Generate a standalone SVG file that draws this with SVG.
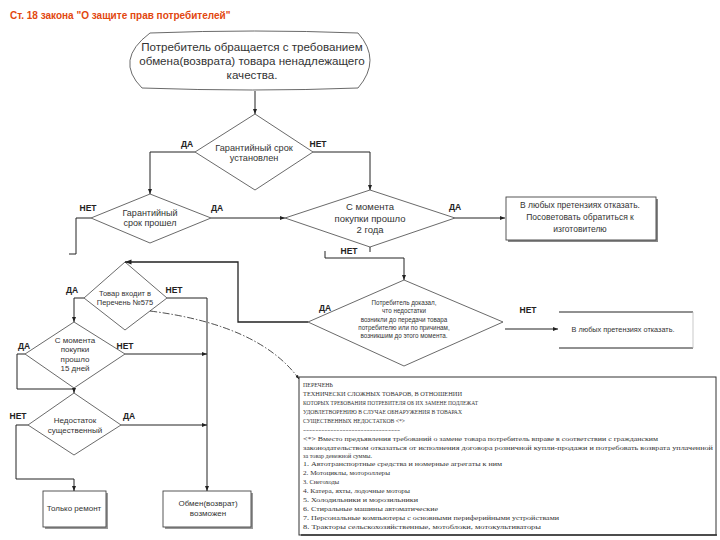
<svg xmlns="http://www.w3.org/2000/svg" width="720" height="540" viewBox="0 0 720 540">
<defs>
<style>
text{font-family:"Liberation Sans",Arial,sans-serif;fill:#333}
.t{text-anchor:middle}
.lbl{font-weight:bold;font-size:8.5px;fill:#222;text-anchor:middle}
.shape{fill:#fff;stroke:#444;stroke-width:0.8}
.box{fill:#fff;stroke:#444;stroke-width:0.9}
.ln{fill:none;stroke:#222;stroke-width:1}
.list{font-family:"Liberation Serif","Times New Roman",serif;font-size:7px;fill:#333}
</style>
<marker id="ah" viewBox="0 0 10 10" refX="10" refY="5" markerWidth="5" markerHeight="5" orient="auto">
<path d="M0,1 L10,5 L0,9 Z" fill="#222"/>
</marker>
</defs>
<rect width="720" height="540" fill="#fff"/>
<text x="10" y="19" style="font-weight:bold;font-size:10px;fill:#e2470f">Ст. 18 закона "О защите прав потребителей"</text>

<g id="start">
<path class="shape" d="M150,33 Q255,29 358,33 Q382,60 358,88 Q255,92 142,88 Q114,60 150,33 Z"/>
<text class="t" x="252" y="51" style="font-size:11.6px">Потребитель обращается с требованием</text>
<text class="t" x="252" y="65" style="font-size:11.6px">обмена(возврата) товара ненадлежащего</text>
<text class="t" x="252" y="79" style="font-size:11.6px">качества.</text>
</g>

<g id="d1">
<path class="shape" d="M255,114 L313,152 L255,190 L195,152 Z"/>
<text class="t" x="254" y="151" style="font-size:9.2px">Гарантийный срок</text>
<text class="t" x="254" y="161" style="font-size:9.2px">установлен</text>
</g>

<g id="d2">
<path class="shape" d="M150,194 L211,218 L150,243 L91,218 Z"/>
<text class="t" x="150" y="216" style="font-size:9px">Гарантийный</text>
<text class="t" x="150" y="226" style="font-size:9px">срок прошел</text>
</g>

<g id="d3">
<path class="shape" d="M370,190 L455,218 L370,247 L285,218 Z"/>
<text class="t" x="370" y="210" style="font-size:9.5px">С момента</text>
<text class="t" x="370" y="222" style="font-size:9.5px">покупки прошло</text>
<text class="t" x="370" y="233" style="font-size:9.5px">2 года</text>
</g>

<g id="refuse1">
<rect x="508" y="199" width="150" height="43" fill="#888"/>
<rect class="box" x="506" y="197" width="150" height="43"/>
<text class="t" x="580" y="208" style="font-size:8.5px">В любых претензиях отказать.</text>
<text class="t" x="580" y="220" style="font-size:8.5px">Посоветовать обратиться к</text>
<text class="t" x="580" y="232" style="font-size:8.5px">изготовителю</text>
</g>

<g id="d4">
<path class="shape" d="M404,280 L503,322 L404,366 L308,322 Z"/>
<text class="t" x="404" y="305" style="font-size:6.3px">Потребитель доказал,</text>
<text class="t" x="404" y="313" style="font-size:6.3px">что недостатки</text>
<text class="t" x="404" y="322" style="font-size:6.3px">возникли до передачи товара</text>
<text class="t" x="404" y="330" style="font-size:6.3px">потребителю или по причинам,</text>
<text class="t" x="404" y="338" style="font-size:6.3px">возникшим до этого момента.</text>
</g>

<g id="refuse2">
<line x1="559" y1="312" x2="693" y2="312" stroke="#222" stroke-width="1"/>
<line x1="559" y1="348" x2="693" y2="348" stroke="#222" stroke-width="1"/>
<line x1="693" y1="312" x2="693" y2="348" stroke="#bbb" stroke-width="0.8"/>
<text class="t" x="623" y="332" style="font-size:7.3px">В любых претензиях отказать.</text>
</g>

<g id="d5">
<path class="shape" d="M125,262 L167,298 L125,330 L84,298 Z"/>
<text class="t" x="125" y="296" style="font-size:7.5px">Товар входит в</text>
<text class="t" x="125" y="305" style="font-size:7.5px">Перечень №575</text>
</g>

<g id="d6">
<path class="shape" d="M74,322 L125,354 L74,388 L25,354 Z"/>
<text class="t" x="75" y="343" style="font-size:8px">С момента</text>
<text class="t" x="75" y="352" style="font-size:8px">покупки</text>
<text class="t" x="75" y="362" style="font-size:8px">прошло</text>
<text class="t" x="75" y="371" style="font-size:8px">15 дней</text>
</g>

<g id="d7">
<path class="shape" d="M74,393 L121,425 L74,455 L28,425 Z"/>
<text class="t" x="75" y="423" style="font-size:8px">Недостаток</text>
<text class="t" x="75" y="433" style="font-size:8px">существенный</text>
</g>

<g id="repair">
<rect x="45" y="493" width="63" height="36" fill="#999"/>
<rect class="box" x="43" y="491" width="63" height="36"/>
<text class="t" x="74" y="511" style="font-size:8px">Только ремонт</text>
</g>

<g id="exchange">
<rect x="165" y="493" width="88" height="36" fill="#999"/>
<rect class="box" x="163" y="491" width="88" height="36"/>
<text class="t" x="208" y="506" style="font-size:8px">Обмен(возврат)</text>
<text class="t" x="208" y="516" style="font-size:8px">возможен</text>
</g>

<g id="list">
<rect x="299" y="377" width="417" height="158" fill="#fff" stroke="#333" stroke-width="1"/>
<line x1="301" y1="535" x2="717" y2="535" stroke="#333" stroke-width="1.5"/>
<text class="list" x="303" y="387" textLength="30" lengthAdjust="spacingAndGlyphs">ПЕРЕЧЕНЬ</text>
<text class="list" x="303" y="396" textLength="159" lengthAdjust="spacingAndGlyphs">ТЕХНИЧЕСКИ СЛОЖНЫХ ТОВАРОВ, В ОТНОШЕНИИ</text>
<text class="list" x="303" y="405" textLength="175" lengthAdjust="spacingAndGlyphs">КОТОРЫХ ТРЕБОВАНИЯ ПОТРЕБИТЕЛЯ ОБ ИХ ЗАМЕНЕ ПОДЛЕЖАТ</text>
<text class="list" x="303" y="414" textLength="159" lengthAdjust="spacingAndGlyphs">УДОВЛЕТВОРЕНИЮ В СЛУЧАЕ ОБНАРУЖЕНИЯ В ТОВАРАХ</text>
<text class="list" x="303" y="423" textLength="102" lengthAdjust="spacingAndGlyphs">СУЩЕСТВЕННЫХ НЕДОСТАТКОВ &lt;*&gt;</text>
<text class="list" x="303" y="432" textLength="97" lengthAdjust="spacingAndGlyphs">--------------------------------</text>
<text class="list" x="303" y="441" textLength="355" lengthAdjust="spacingAndGlyphs">&lt;*&gt; Вместо предъявления требований о замене товара потребитель вправе в соответствии с гражданским</text>
<text class="list" x="303" y="450" textLength="410" lengthAdjust="spacingAndGlyphs">законодательством отказаться от исполнения договора розничной купли-продажи и потребовать возврата уплаченной</text>
<text class="list" x="303" y="458" textLength="69" lengthAdjust="spacingAndGlyphs">за товар денежной суммы.</text>
<text class="list" x="303" y="466" textLength="199" lengthAdjust="spacingAndGlyphs">1. Автотранспортные средства и номерные агрегаты к ним</text>
<text class="list" x="303" y="475" textLength="87" lengthAdjust="spacingAndGlyphs">2. Мотоциклы, мотороллеры</text>
<text class="list" x="303" y="484" textLength="36" lengthAdjust="spacingAndGlyphs">3. Снегоходы</text>
<text class="list" x="303" y="493" textLength="107" lengthAdjust="spacingAndGlyphs">4. Катера, яхты, лодочные моторы</text>
<text class="list" x="303" y="502" textLength="115" lengthAdjust="spacingAndGlyphs">5. Холодильники и морозильники</text>
<text class="list" x="303" y="511" textLength="135" lengthAdjust="spacingAndGlyphs">6. Стиральные машины автоматические</text>
<text class="list" x="303" y="520" textLength="256" lengthAdjust="spacingAndGlyphs">7. Персональные компьютеры с основными периферийными устройствами</text>
<text class="list" x="303" y="529" textLength="238" lengthAdjust="spacingAndGlyphs">8. Тракторы сельскохозяйственные, мотоблоки, мотокультиваторы</text>
</g>

<g id="connectors">
<path class="ln" d="M255,91 L255,114" marker-end="url(#ah)"/>
<path class="ln" d="M195,152 L150,152 L150,194" marker-end="url(#ah)"/>
<path class="ln" d="M313,152 L370,152 L370,190" marker-end="url(#ah)"/>
<path class="ln" d="M211,218 L285,218" marker-end="url(#ah)"/>
<path class="ln" d="M91,218 L76,218 L76,254 L69,254"/>
<path class="ln" d="M455,218 L505,218" marker-end="url(#ah)"/>
<path class="ln" d="M370,247 L370,252"/>
<path class="ln" d="M325,251 L325,258 L404,258 L404,280" marker-end="url(#ah)"/>
<path class="ln" d="M505,329 L558,329" marker-end="url(#ah)"/>
<path class="ln" style="stroke-width:1.3" d="M308,322 L238,322 L238,262 L125,262" marker-end="url(#ah)"/>
<path class="ln" d="M84,298 L74,298 L74,322" marker-end="url(#ah)"/>
<path class="ln" d="M167,298 L207,298 L207,491" marker-end="url(#ah)"/>
<path class="ln" d="M125,354 L207,354" marker-end="url(#ah)"/>
<path class="ln" d="M25,354 L17,354 L17,389 L74,389 L74,393" marker-end="url(#ah)"/>
<path class="ln" d="M28,425 L16,425 L16,479 L74,479 L74,491" marker-end="url(#ah)"/>
<path class="ln" d="M121,425 L207,425" marker-end="url(#ah)"/>
<path class="ln" style="stroke-width:0.8;stroke-dasharray:7 2 1.5 2" d="M150,311 Q260,325 299,379" marker-end="url(#ah)"/>
</g>

<g id="labels">
<text class="lbl" x="187" y="147">ДА</text>
<text class="lbl" x="318" y="147">НЕТ</text>
<text class="lbl" x="88" y="211">НЕТ</text>
<text class="lbl" x="217" y="211">ДА</text>
<text class="lbl" x="455" y="210">ДА</text>
<text class="lbl" x="349" y="254">НЕТ</text>
<text class="lbl" x="325" y="311">ДА</text>
<text class="lbl" x="528" y="313">НЕТ</text>
<text class="lbl" x="72" y="293">ДА</text>
<text class="lbl" x="174" y="293">НЕТ</text>
<text class="lbl" x="24" y="349">ДА</text>
<text class="lbl" x="125" y="349">НЕТ</text>
<text class="lbl" x="18" y="419">НЕТ</text>
<text class="lbl" x="129" y="419">ДА</text>
</g>
</svg>
